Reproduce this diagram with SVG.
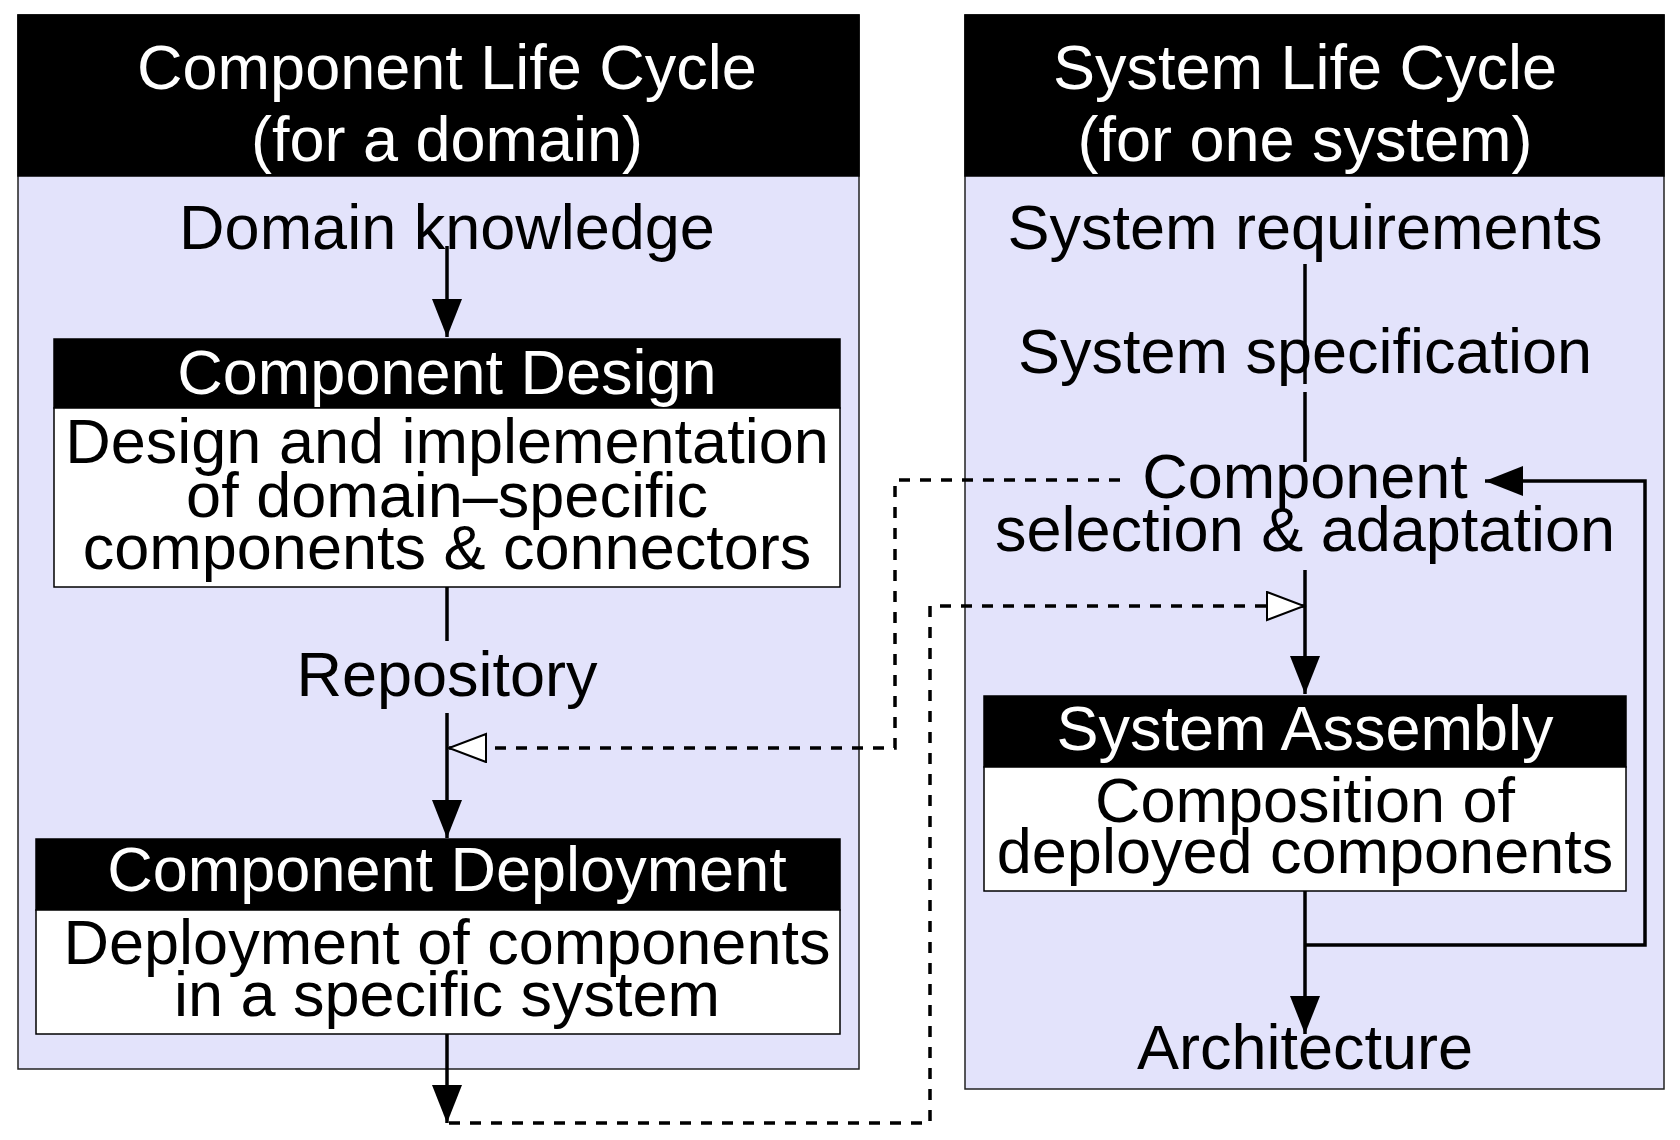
<svg xmlns="http://www.w3.org/2000/svg" width="1680" height="1140" viewBox="0 0 1680 1140">
<style>
text{font-family:"Liberation Sans",Arial,Helvetica,sans-serif;font-size:63px;text-anchor:middle;fill:#000}
.w{fill:#fff}
.panel{fill:#e3e3fb;stroke:#222;stroke-width:1.5}
.hdr{fill:#000;stroke:#000;stroke-width:1.5}
.body{fill:#fff;stroke:#000;stroke-width:1.5}
.ln{fill:none;stroke:#000;stroke-width:3.5}
.dash{fill:none;stroke:#000;stroke-width:3.5;stroke-dasharray:11 10}
</style>
<defs>
<marker id="ah" markerUnits="userSpaceOnUse" markerWidth="40" markerHeight="32" refX="38" refY="15" orient="auto">
<path d="M0,0 L38,15 L0,30 Z" fill="#000"/>
</marker>
<marker id="oh" markerUnits="userSpaceOnUse" markerWidth="42" markerHeight="34" refX="38" refY="15" orient="auto">
<path d="M1,1 L38,15 L1,29 Z" fill="#fff" stroke="#000" stroke-width="2"/>
</marker>
</defs>
<rect width="1680" height="1140" fill="#fff"/>
<g id="panel-component-life-cycle">
<rect class="panel" x="18" y="15" width="841" height="1054"/>
<rect class="hdr" x="18" y="15" width="841" height="161"/>
<text class="w" x="447" y="89">Component Life Cycle</text>
<text class="w" x="447" y="161">(for a domain)</text>
</g>
<g id="panel-system-life-cycle">
<rect class="panel" x="965" y="15" width="699" height="1074"/>
<rect class="hdr" x="965" y="15" width="699" height="161"/>
<text class="w" x="1305" y="89">System Life Cycle</text>
<text class="w" x="1305" y="161">(for one system)</text>
</g>
<g id="connectors">
<line class="ln" x1="447" y1="246" x2="447" y2="337" marker-end="url(#ah)"/>
<line class="ln" x1="447" y1="587" x2="447" y2="641"/>
<line class="ln" x1="447" y1="713" x2="447" y2="838" marker-end="url(#ah)"/>
<line class="ln" x1="447" y1="1034" x2="447" y2="1123" marker-end="url(#ah)"/>
<polyline class="dash" points="449,1123 930,1123 930,606 1267,606"/>
<line class="ln" x1="1267" y1="606" x2="1304" y2="606" stroke-width="0" marker-end="url(#oh)"/>
<polyline class="dash" points="1120,480 895,480 895,748 486,748"/>
<line class="ln" x1="486" y1="748" x2="449" y2="748" stroke-width="0" marker-end="url(#oh)"/>
<line class="ln" x1="1305" y1="264" x2="1305" y2="384"/>
<line class="ln" x1="1305" y1="392" x2="1305" y2="462"/>
<line class="ln" x1="1305" y1="570" x2="1305" y2="694" marker-end="url(#ah)"/>
<line class="ln" x1="1305" y1="891" x2="1305" y2="1034" marker-end="url(#ah)"/>
<polyline class="ln" points="1305,945 1645,945 1645,481 1485,481" marker-end="url(#ah)"/>
</g>
<g id="node-domain-knowledge"><text x="447" y="249">Domain knowledge</text></g>
<g id="node-component-design">
<rect class="hdr" x="54" y="339" width="786" height="69"/>
<rect class="body" x="54" y="408" width="786" height="179"/>
<text class="w" x="447" y="394">Component Design</text>
<text x="447" y="463">Design and implementation</text>
<text x="447" y="517">of domain–specific</text>
<text x="447" y="569">components &amp; connectors</text>
</g>
<g id="node-repository"><text x="447" y="696">Repository</text></g>
<g id="node-component-deployment">
<rect class="hdr" x="36" y="839" width="804" height="71"/>
<rect class="body" x="36" y="910" width="804" height="124"/>
<text class="w" x="447" y="891">Component Deployment</text>
<text x="447" y="964">Deployment of components</text>
<text x="447" y="1016">in a specific system</text>
</g>
<g id="node-system-requirements"><text x="1305" y="249">System requirements</text></g>
<g id="node-system-specification"><text x="1305" y="373">System specification</text></g>
<g id="node-component-selection">
<text x="1305" y="498">Component</text>
<text x="1305" y="551">selection &amp; adaptation</text>
</g>
<g id="node-system-assembly">
<rect class="hdr" x="984" y="696" width="642" height="71"/>
<rect class="body" x="984" y="767" width="642" height="124"/>
<text class="w" x="1305" y="750">System Assembly</text>
<text x="1305" y="822">Composition of</text>
<text x="1305" y="873">deployed components</text>
</g>
<g id="node-architecture"><text x="1305" y="1069">Architecture</text></g>
</svg>
